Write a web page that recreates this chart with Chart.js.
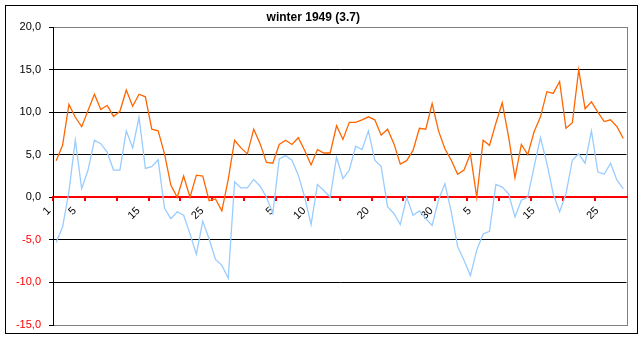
<!DOCTYPE html>
<html><head><meta charset="utf-8">
<script src="https://cdn.jsdelivr.net/npm/chart.js@4/dist/chart.umd.min.js"></script>
<style>html,body{margin:0;padding:0;background:#fff;}</style>
</head><body>
<canvas id="c" width="642" height="340" style="display:block;width:642px;height:340px"></canvas>
<script>
const titleText = 'winter 1949 (3.7)';

const xLabels = [
  '1','','','','5', '','','','','', '','','','','15', '','','','','', '','','','','25', '','','','','', '',
  '','','','','5', '','','','','10', '','','','','', '','','','','20', '','','','','', '','','','','30', '',
  '','','','','5', '','','','','', '','','','','15', '','','','','', '','','','','25', '','',''
];

const maxTemp = [
  4.3, 6.1, 10.9, 9.4, 8.3, 10.2, 12.1, 10.3, 10.8, 9.5,
  10.1, 12.6, 10.7, 12.1, 11.8, 8.0, 7.8, 5.1, 1.4, 0.0,
  2.5, 0.0, 2.6, 2.5, -0.4, -0.2, -1.6, 2.1, 6.7, 5.8,
  5.1, 8.0, 6.3, 4.1, 4.0, 6.2, 6.7, 6.2, 7.0, 5.5,
  3.8, 5.6, 5.2, 5.2, 8.4, 6.8, 8.8, 8.8, 9.1, 9.45,
  9.1, 7.3, 8.0, 6.3, 3.9, 4.3, 5.5, 8.1, 8.0, 11.0,
  7.8, 5.7, 4.35, 2.7, 3.2, 5.1, 0.0, 6.7, 6.1, 8.7,
  11.1, 7.1, 2.3, 6.2, 5.0, 7.7, 9.45, 12.4, 12.2, 13.6,
  8.1, 8.75, 15.0, 10.4, 11.2, 10.0, 8.9, 9.1, 8.3, 6.9
];

const minTemp = [
  -5.3, -3.5, 0.7, 6.7, 1.0, 3.2, 6.7, 6.3, 5.3, 3.2,
  3.2, 7.8, 5.8, 9.4, 3.4, 3.6, 4.4, -1.3, -2.5, -1.7,
  -2.1, -4.3, -6.7, -2.8, -4.9, -7.3, -8.0, -9.5, 1.8, 1.1,
  1.1, 2.1, 1.3, 0.0, -1.9, 4.5, 4.9, 4.35, 2.6, 0.0,
  -3.2, 1.5, 0.8, 0.0, 4.7, 2.2, 3.2, 6.0, 5.6, 7.8,
  4.35, 3.6, -1.1, -1.9, -3.2, 0.0, -2.1, -1.6, -2.5, -3.3,
  -0.3, 1.6, -1.7, -5.8, -7.4, -9.2, -6.2, -4.3, -4.0, 1.5,
  1.2, 0.4, -2.3, -0.35, 0.0, 3.6, 7.0, 4.0, 0.4, -1.7,
  0.4, 4.35, 5.1, 4.0, 7.8, 3.0, 2.7, 4.0, 2.0, 1.0
];

const yMin = -15, yMax = 20, yStep = 5;
const FONT = 'Liberation Sans, Arial, Helvetica, sans-serif';

const framePlugin = {
  id: 'frame',
  beforeDraw(chart) {
    const c = chart.ctx, a = chart.chartArea;
    c.save();
    c.strokeStyle = '#000';
    c.lineWidth = 1;
    c.strokeRect(5.5, 5.5, 632, 328);
    c.strokeStyle = '#808080';
    c.strokeRect(Math.round(a.left) + 0.5, Math.round(a.top) + 0.5,
                 Math.round(a.right - a.left), Math.round(a.bottom - a.top));
    c.restore();
  }
};

new Chart(document.getElementById('c'), {
  type: 'line',
  data: {
    labels: xLabels,
    datasets: [
      { label: 'max', data: maxTemp, borderColor: '#FF6600', borderWidth: 1.3,
        pointRadius: 0, tension: 0, fill: false },
      { label: 'min', data: minTemp, borderColor: '#99CCFF', borderWidth: 1.3,
        pointRadius: 0, tension: 0, fill: false }
    ]
  },
  options: {
    responsive: false,
    animation: false,
    devicePixelRatio: 1,
    layout: { padding: { left: 0, right: 15.5, top: 0, bottom: 15 } },
    plugins: {
      legend: { display: false },
      tooltip: { enabled: false },
      title: {
        display: true, text: titleText, color: '#000',
        font: { family: FONT, size: 12, weight: 'bold' },
        padding: { top: 10, bottom: 2.6 }
      }
    },
    scales: {
      x: {
        type: 'category',
        position: { y: 0 },
        offset: true,
        z: 1,
        grid: {
          offset: true, drawOnChartArea: false, drawTicks: true, tickLength: 3, lineWidth: 2,
          color: c => (c.index % 5 === 0 ? '#FF0000' : 'rgba(0,0,0,0)')
        },
        border: { display: true, color: '#FF0000', width: 2 },
        ticks: {
          autoSkip: false, maxRotation: 45, minRotation: 45,
          padding: 4, labelOffset: -7, color: '#000',
          font: { family: FONT, size: 11 }
        }
      },
      y: {
        min: yMin, max: yMax,
        afterFit: s => { s.width = 53; },
        ticks: {
          stepSize: yStep, padding: 8,
          color: c => (c.tick.value < 0 ? '#FF0000' : '#000'),
          font: { family: FONT, size: 11 },
          callback: v => v.toFixed(1).replace('.', ',')
        },
        grid: {
          tickLength: 4, tickColor: '#000', lineWidth: 1,
          color: c => {
            const v = c.tick.value;
            return (v === yMin || v === yMax || v === 0) ? 'rgba(0,0,0,0)' : '#000';
          }
        },
        border: { display: true, color: '#000', width: 1 }
      }
    }
  },
  plugins: [framePlugin]
});
</script>
</body></html>
